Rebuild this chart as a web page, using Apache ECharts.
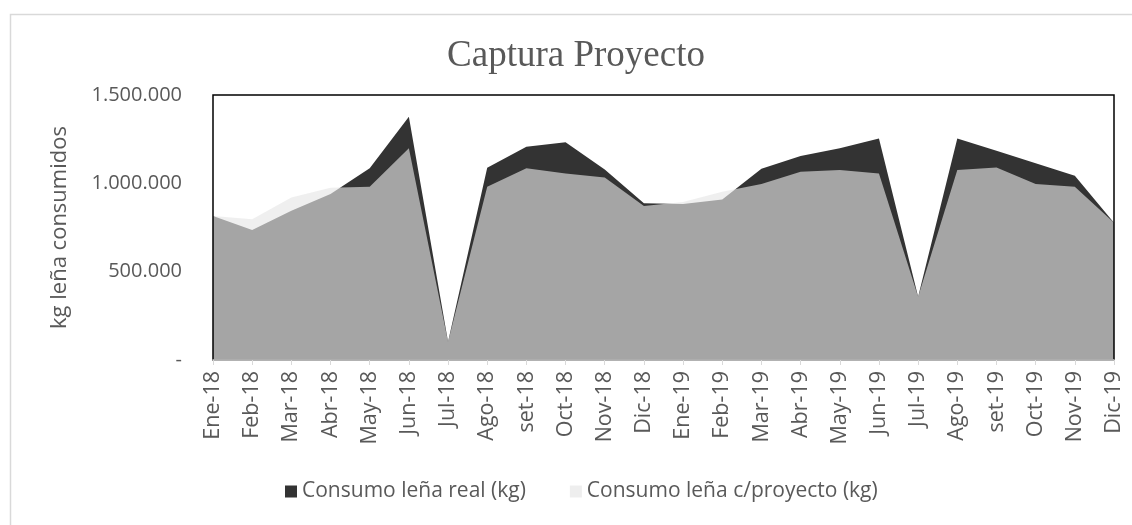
<!DOCTYPE html>
<html>
<head>
<meta charset="utf-8">
<script src="https://cdn.jsdelivr.net/npm/echarts@6/dist/echarts.min.js"></script>
<style>
html,body{margin:0;padding:0;background:#fff;}
#c{width:1132px;height:525px;}
</style>
</head>
<body>
<div id="c"></div>
<script>
const months = ['Ene-18','Feb-18','Mar-18','Abr-18','May-18','Jun-18','Jul-18','Ago-18','set-18','Oct-18','Nov-18','Dic-18',
                'Ene-19','Feb-19','Mar-19','Abr-19','May-19','Jun-19','Jul-19','Ago-19','set-19','Oct-19','Nov-19','Dic-19'];
const realKg = [815000, 736000, 845000, 940000, 1085000, 1377000, 104000, 1088000, 1207000, 1232000, 1079000, 887000,
                883000, 909000, 1083000, 1155000, 1198000, 1254000, 358000, 1254000, 1185000, 1113000, 1043000, 777000];
const proyectoKg = [815000, 796000, 920000, 975000, 981000, 1198000, 104000, 981000, 1085000, 1056000, 1033000, 872000,
                    894000, 953000, 996000, 1066000, 1075000, 1056000, 358000, 1075000, 1090000, 996000, 981000, 777000];
const yTicks = [0, 500000, 1000000, 1500000];
const seriesNames = ['Consumo leña real (kg)', 'Consumo leña c/proyecto (kg)'];

function fmt(v){
  if (v === 0) return '-';
  return String(v).replace(/\B(?=(\d{3})+(?!\d))/g, '.');
}

const chart = echarts.init(document.getElementById('c'), null, {renderer:'canvas'});
const font = 'Open Sans';
chart.setOption({
  backgroundColor: '#fff',
  animation: false,
  graphic: [{
    type: 'rect', left: 8, top: 12, shape: {width: 1300, height: 700},
    style: {fill: 'none', stroke: '#d9d9d9', lineWidth: 1.5}, silent: true, z: -10
  }],
  title: {
    text: 'Captura Proyecto',
    left: 571, top: 33, textAlign: 'center',
    textStyle: {fontFamily: 'Liberation Serif', fontSize: 37, fontWeight: 'normal', color: '#595959'}
  },
  legend: {
    left: 280, top: 476,
    itemWidth: 12, itemHeight: 12, itemGap: 44,
    icon: 'rect',
    textStyle: {fontFamily: font, fontSize: 21, color: '#595959'},
    data: [
      {name: seriesNames[0], itemStyle: {color: '#333333', opacity: 1}},
      {name: seriesNames[1], itemStyle: {color: '#eeeeee', opacity: 1}}
    ]
  },
  grid: {
    left: 213, right: 18, top: 95, bottom: 165,
    show: true, borderColor: '#000', borderWidth: 1.5, backgroundColor: 'transparent', z: 5
  },
  xAxis: {
    type: 'category', data: months, boundaryGap: false, z: 6,
    axisLine: {lineStyle: {color: '#d9d9d9', width: 1.5}},
    axisTick: {alignWithLabel: true, length: 5, lineStyle: {color: '#d9d9d9'}},
    axisLabel: {rotate: 90, interval: 0, margin: 11, fontFamily: font, fontSize: 21.5, color: '#595959'}
  },
  yAxis: {
    type: 'value', min: 0, max: 1500000, interval: 500000,
    name: 'kg leña consumidos', nameLocation: 'middle', nameGap: 142, nameRotate: 90,
    nameTextStyle: {fontFamily: font, fontSize: 22, color: '#595959'},
    axisLine: {show: false}, axisTick: {show: false},
    splitLine: {show: false},
    axisLabel: {margin: 31, fontFamily: font, fontSize: 20, color: '#595959', formatter: fmt}
  },
  series: [
    {
      name: seriesNames[0], type: 'line', data: realKg, symbol: 'none',
      lineStyle: {width: 0, opacity: 0},
      itemStyle: {color: '#333333'},
      areaStyle: {color: '#333333', opacity: 1}
    },
    {
      name: seriesNames[1], type: 'line', data: proyectoKg, symbol: 'none',
      lineStyle: {width: 0, opacity: 0},
      itemStyle: {color: '#eeeeee'},
      areaStyle: {color: '#e6e6e6', opacity: 0.64}
    }
  ]
});
</script>
</body>
</html>
